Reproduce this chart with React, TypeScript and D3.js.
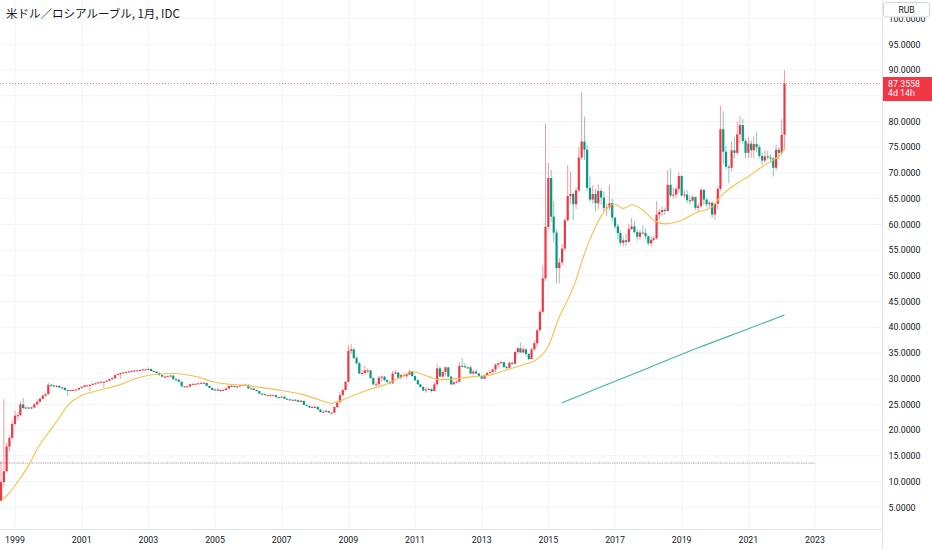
import * as d3 from 'd3';

// Monthly USD/RUB candles, first month = Aug 1998
const startYear = 1998;
const startMonth = 7; // August (0-based)

const opens = [
  6.24, 9.9, 12.0, 16.8, 18.5,
  21.2, 22.8, 22.9, 25.0, 24.3, 24.4, 24.2, 24.4, 25.0, 25.5, 26.1, 26.7,
  27.0, 28.8, 28.7, 28.5, 28.6, 28.3, 28.2, 27.8, 27.7, 27.8, 27.8, 27.9,
  28.2, 28.4, 28.7, 28.7, 28.8, 29.0, 29.1, 29.3, 29.4, 29.4, 29.6, 29.9,
  30.1, 30.7, 30.9, 31.1, 31.2, 31.3, 31.4, 31.5, 31.6, 31.6, 31.7, 31.8,
  31.8, 31.9, 31.5, 31.4, 31.1, 30.7, 30.4, 30.4, 30.5, 30.6, 29.9, 29.8,
  29.4, 28.5, 28.5, 28.5, 28.9, 29.0, 29.0, 29.1, 29.2, 29.2, 28.6, 28.2,
  27.8, 27.9, 27.7, 27.8, 27.8, 28.1, 28.6, 28.6, 28.5, 28.5, 28.7, 28.8,
  28.8, 28.1, 28.1, 27.8, 27.6, 27.1, 27.0, 26.8, 26.8, 26.8, 26.8, 26.4,
  26.3, 26.5, 26.1, 26.0, 25.8, 25.9, 25.8, 25.5, 25.7, 24.9, 24.7, 24.4,
  24.5, 24.5, 24.0, 23.5, 23.6, 23.7, 23.4, 23.4, 24.5, 25.4, 26.8, 27.8,
  29.4, 35.4, 35.7, 34.0, 33.0, 31.0, 31.1, 31.6, 31.6, 30.1, 28.9, 28.9,
  30.2, 30.4, 29.7, 29.4, 29.1, 31.0, 31.2, 30.2, 30.7, 30.5, 30.8, 31.4,
  30.5, 29.7, 28.9, 28.4, 27.7, 27.9, 28.0, 27.6, 28.9, 32.0, 30.4, 31.3,
  32.2, 30.4, 28.9, 29.3, 29.4, 32.5, 32.4, 32.2, 32.2, 31.0, 31.4, 31.0,
  30.5, 30.0, 30.6, 31.1, 31.3, 31.8, 32.7, 33.0, 33.2, 32.3, 32.1, 33.1,
  32.9, 35.2, 35.9, 35.1, 35.7, 34.8, 33.8, 35.7, 36.9, 39.4, 43.0, 49.5,
  59.5, 69.0, 61.5, 58.4, 51.5, 52.6, 55.3, 60.8, 65.5, 65.9, 63.9, 66.6,
  73.0, 76.1, 74.5, 67.1, 64.8, 65.9, 64.1, 66.5, 65.2, 63.2, 63.3, 64.1,
  61.3, 59.6, 58.3, 56.4, 56.9, 56.6, 59.1, 59.6, 58.5, 57.6, 58.4, 58.3,
  57.7, 56.3, 57.0, 57.3, 61.9, 62.4, 62.8, 62.6, 67.7, 65.6, 65.8, 66.9,
  69.4, 65.6, 65.8, 64.7, 64.6, 65.3, 63.2, 63.5, 66.7, 64.8, 63.9, 64.2,
  61.9, 64.0, 66.9, 78.5, 74.1, 71.2, 71.0, 74.4, 73.9, 77.5, 79.3, 76.2,
  73.9, 75.7, 74.4, 75.6, 75.0, 73.3, 72.4, 73.2, 73.0, 72.8, 71.0, 74.5,
  73.9, 77.4,
];

const highs = [
  14.0, 26.0, 17.5, 19.0, 21.9,
  23.8, 23.5, 25.6, 26.3, 24.6, 24.5, 24.6, 25.3, 26.0, 26.3, 26.9, 27.2,
  29.2, 29.0, 28.8, 28.8, 28.7, 28.4, 28.3, 27.9, 27.9, 27.9, 27.9, 28.3,
  28.5, 28.8, 28.8, 28.9, 29.1, 29.2, 29.4, 29.5, 29.5, 29.7, 30.0, 30.3,
  30.8, 31.0, 31.2, 31.3, 31.4, 31.5, 31.6, 31.7, 31.7, 31.8, 31.9, 31.9,
  32.2, 31.9, 31.6, 31.4, 31.2, 30.8, 30.6, 30.6, 30.7, 30.7, 30.0, 29.9,
  29.5, 28.6, 28.6, 29.0, 29.1, 29.1, 29.2, 29.3, 29.3, 29.2, 28.7, 28.3,
  28.1, 28.2, 27.9, 28.0, 28.1, 28.7, 28.8, 28.7, 28.6, 28.8, 28.9, 29.0,
  28.9, 28.3, 28.2, 27.9, 27.6, 27.2, 27.1, 26.9, 26.9, 26.9, 26.9, 26.5,
  26.6, 26.6, 26.2, 26.0, 26.0, 26.0, 25.9, 25.9, 25.7, 25.0, 24.8, 24.7,
  24.9, 24.7, 24.1, 23.8, 24.0, 23.8, 23.5, 24.6, 25.8, 27.4, 28.0, 29.5,
  36.5, 36.7, 36.0, 34.4, 33.3, 31.7, 32.5, 32.0, 31.7, 30.3, 29.4, 30.5,
  30.6, 30.5, 29.9, 29.5, 31.5, 31.7, 31.3, 30.9, 31.2, 31.1, 31.8, 31.5,
  30.6, 29.9, 29.0, 28.5, 28.3, 28.3, 28.1, 29.4, 32.9, 32.4, 31.6, 32.4,
  32.2, 30.5, 29.6, 29.8, 33.2, 34.0, 33.0, 32.5, 32.5, 31.8, 31.8, 31.1,
  30.6, 30.8, 31.3, 31.8, 31.9, 33.0, 33.1, 33.4, 33.3, 32.5, 33.3, 33.3,
  35.3, 36.1, 37.0, 36.3, 35.9, 35.0, 36.0, 37.4, 39.7, 43.5, 52.0, 79.6,
  71.9, 70.6, 64.5, 59.0, 53.5, 56.2, 61.3, 71.5, 70.2, 66.2, 67.2, 75.1,
  85.8, 80.9, 75.4, 69.3, 67.6, 66.9, 67.8, 67.0, 66.4, 64.0, 67.7, 65.0,
  61.4, 60.1, 58.8, 57.6, 58.3, 60.1, 61.2, 60.7, 58.9, 58.9, 59.8, 59.2,
  57.8, 57.6, 57.8, 64.5, 63.0, 63.5, 63.3, 70.6, 70.9, 67.1, 67.3, 70.1,
  69.6, 66.6, 66.7, 65.6, 65.7, 65.4, 64.0, 67.2, 66.9, 65.1, 64.6, 64.5,
  64.1, 67.4, 83.1, 81.9, 75.3, 71.6, 76.1, 77.0, 80.0, 81.0, 80.5, 76.7,
  77.0, 76.3, 77.1, 77.9, 75.5, 74.0, 74.5, 74.3, 73.6, 73.0, 75.5, 75.0,
  80.4, 90.0,
];

const lows = [
  6.2, 9.0, 11.8, 15.8, 18.2,
  20.9, 22.0, 22.6, 24.0, 24.1, 24.1, 24.1, 24.3, 24.9, 25.4, 26.0, 26.4,
  26.9, 28.4, 28.3, 28.3, 28.2, 28.0, 27.7, 26.6, 27.6, 27.7, 27.7, 27.8,
  28.1, 28.3, 28.6, 27.6, 28.7, 28.9, 29.0, 29.2, 28.2, 29.3, 29.5, 29.8,
  30.0, 30.6, 30.0, 31.0, 31.1, 31.2, 31.3, 31.4, 31.5, 31.5, 31.6, 31.7,
  31.7, 31.4, 31.3, 31.0, 30.6, 30.3, 30.3, 30.3, 30.4, 29.8, 29.6, 29.3,
  28.5, 28.4, 28.4, 28.4, 28.8, 28.9, 28.9, 29.1, 29.1, 28.6, 28.1, 27.7,
  27.7, 27.6, 27.4, 27.7, 27.7, 28.0, 28.5, 28.3, 28.3, 28.4, 28.6, 28.7,
  28.1, 28.0, 27.7, 27.5, 26.9, 26.9, 26.8, 26.7, 26.6, 26.7, 26.4, 26.2,
  26.3, 26.1, 26.0, 25.7, 25.7, 25.7, 25.4, 25.4, 24.9, 24.7, 24.3, 24.3,
  24.4, 24.0, 23.5, 23.4, 23.5, 23.4, 23.1, 23.3, 24.3, 25.3, 26.7, 27.6,
  29.3, 34.8, 33.8, 32.7, 30.9, 30.6, 30.9, 31.0, 30.0, 28.7, 28.6, 28.8,
  29.4, 29.6, 29.1, 28.9, 29.0, 30.8, 30.1, 29.9, 30.4, 30.1, 30.7, 30.4,
  29.6, 28.9, 28.3, 27.6, 27.3, 27.8, 27.3, 27.5, 28.8, 30.3, 30.3, 30.6,
  30.3, 28.8, 28.9, 29.2, 29.3, 32.2, 32.0, 31.9, 30.8, 30.6, 30.9, 30.4,
  29.9, 29.9, 30.5, 31.0, 30.8, 31.3, 32.2, 32.8, 32.0, 31.8, 32.0, 32.6,
  32.8, 34.8, 35.0, 34.9, 34.3, 33.6, 33.8, 35.5, 36.1, 39.3, 42.7, 49.0,
  59.0, 60.5, 56.6, 48.5, 48.6, 52.0, 54.8, 60.5, 64.0, 60.8, 63.0, 66.2,
  72.5, 72.5, 66.5, 64.3, 64.0, 62.5, 63.0, 63.8, 62.5, 61.6, 62.7, 60.6,
  59.2, 57.1, 55.9, 55.7, 55.8, 56.5, 58.9, 58.3, 56.8, 57.0, 58.2, 57.2,
  55.9, 55.7, 56.6, 57.0, 60.9, 61.6, 61.8, 62.5, 65.2, 65.0, 65.1, 66.1,
  65.4, 65.1, 64.1, 63.8, 64.3, 62.8, 62.5, 63.4, 63.8, 63.4, 63.2, 61.2,
  60.9, 62.9, 66.5, 71.8, 70.7, 68.0, 70.2, 72.9, 73.5, 75.8, 75.7, 72.9,
  72.9, 72.9, 72.8, 74.0, 72.8, 71.5, 72.0, 72.6, 72.0, 69.3, 70.5, 72.6,
  73.6, 74.4,
];

const closes = [
  9.9, 12.0, 16.8, 18.5, 21.2,
  22.8, 22.9, 25.0, 24.3, 24.4, 24.2, 24.4, 25.0, 25.5, 26.1, 26.7, 27.0,
  28.8, 28.7, 28.5, 28.6, 28.3, 28.2, 27.8, 27.7, 27.8, 27.8, 27.9, 28.2,
  28.4, 28.7, 28.7, 28.8, 29.0, 29.1, 29.3, 29.4, 29.4, 29.6, 29.9, 30.1,
  30.7, 30.9, 31.1, 31.2, 31.3, 31.4, 31.5, 31.6, 31.6, 31.7, 31.8, 31.8,
  31.9, 31.5, 31.4, 31.1, 30.7, 30.4, 30.4, 30.5, 30.6, 29.9, 29.8, 29.4,
  28.5, 28.5, 28.5, 28.9, 29.0, 29.0, 29.1, 29.2, 29.2, 28.6, 28.2, 27.8,
  27.9, 27.7, 27.8, 27.8, 28.1, 28.6, 28.6, 28.5, 28.5, 28.7, 28.8, 28.8,
  28.1, 28.1, 27.8, 27.6, 27.1, 27.0, 26.8, 26.8, 26.8, 26.8, 26.4, 26.3,
  26.5, 26.1, 26.0, 25.8, 25.9, 25.8, 25.5, 25.7, 24.9, 24.7, 24.4, 24.5,
  24.5, 24.0, 23.5, 23.6, 23.7, 23.4, 23.4, 24.5, 25.4, 26.8, 27.8, 29.4,
  35.4, 35.7, 34.0, 33.0, 31.0, 31.1, 31.6, 31.6, 30.1, 28.9, 28.9, 30.2,
  30.4, 29.7, 29.4, 29.1, 31.0, 31.2, 30.2, 30.7, 30.5, 30.8, 31.4, 30.5,
  29.7, 28.9, 28.4, 27.7, 27.9, 28.0, 27.6, 28.9, 32.0, 30.4, 31.3, 32.2,
  30.4, 28.9, 29.3, 29.4, 32.5, 32.4, 32.2, 32.2, 31.0, 31.4, 31.0, 30.5,
  30.0, 30.6, 31.1, 31.3, 31.8, 32.7, 33.0, 33.2, 32.3, 32.1, 33.1, 32.9,
  35.2, 35.9, 35.1, 35.7, 34.8, 33.8, 35.7, 36.9, 39.4, 43.0, 49.5, 59.5,
  69.0, 61.5, 58.4, 51.5, 52.6, 55.3, 60.8, 65.5, 65.9, 63.9, 66.6, 73.0,
  76.1, 74.5, 67.1, 64.8, 65.9, 64.1, 66.5, 65.2, 63.2, 63.3, 64.1, 61.3,
  59.6, 58.3, 56.4, 56.9, 56.6, 59.1, 59.6, 58.5, 57.6, 58.4, 58.3, 57.7,
  56.3, 57.0, 57.3, 61.9, 62.4, 62.8, 62.6, 67.7, 65.6, 65.8, 66.9, 69.4,
  65.6, 65.8, 64.7, 64.6, 65.3, 63.2, 63.5, 66.7, 64.8, 63.9, 64.2, 61.9,
  64.0, 66.9, 78.5, 74.1, 71.2, 71.0, 74.4, 73.9, 77.5, 79.3, 76.2, 73.9,
  75.7, 74.4, 75.6, 75.0, 73.3, 72.4, 73.2, 73.0, 72.8, 71.0, 74.5, 73.9,
  77.4, 87.3558,
];

// yellow moving average
const maDates = [
  '1998-08', '1998-11', '1999-02', '1999-06', '1999-09', '2000-01', '2000-05', '2000-08',
  '2000-12', '2001-07', '2002-02', '2002-09', '2003-03', '2003-10', '2004-07', '2005-01',
  '2006-01', '2007-01', '2007-08', '2008-02', '2008-07', '2009-02', '2009-08', '2010-02',
  '2010-08', '2010-12', '2011-06', '2011-10', '2012-05', '2012-10', '2013-04', '2013-10',
  '2014-04', '2014-09', '2015-01', '2015-05', '2015-08', '2015-11', '2016-01', '2016-06',
  '2016-10', '2017-01', '2017-04', '2017-07', '2017-11', '2018-03', '2018-07', '2018-12',
  '2019-06', '2019-12', '2020-03', '2020-09', '2021-01', '2021-06', '2021-09', '2022-01',
  '2022-02',
];
const maValues = [
  6.2, 7.8, 10.0, 13.2, 16.3, 19.5, 22.4, 24.8,
  26.5, 27.7, 28.7, 30.1, 30.8, 31.0, 30.3, 29.3,
  28.6, 27.7, 27.0, 26.0, 25.2, 26.6, 27.8, 28.8,
  30.3, 31.4, 30.4, 29.8, 30.1, 30.4, 30.7, 31.7,
  32.7, 33.8, 36.3, 42.0, 45.3, 49.2, 52.7, 59.5,
  63.1, 63.9, 63.1, 63.8, 62.8, 60.8, 60.1, 60.6,
  62.2, 63.4, 65.4, 68.0, 69.3, 71.2, 72.2, 73.8,
  74.8,
];

// teal long average
const longMaDates = ['2015-06', '2016-07', '2018-01', '2019-07', '2021-01', '2022-02'];
const longMaValues = [25.3, 28.2, 32.1, 36.0, 39.7, 42.4];

const baseLevel = 13.6;
const baseLevelEnd = '2023-01';
const lastPrice = 87.3558;
const countdown = '4d 14h';
// 85 sits under the last-price label and is not shown
const priceTicks = [5, 10, 15, 20, 25, 30, 35, 40, 45, 50, 55, 60, 65, 70, 75, 80, 85, 90, 95, 100];
const hiddenPriceLabels = [85];
const yearTicks = [1999, 2001, 2003, 2005, 2007, 2009, 2011, 2013, 2015, 2017, 2019, 2021, 2023];
const title = '米ドル／ロシアルーブル, 1月, IDC';

const W = 932;
const H = 550;
const plotW = 882;
const plotH = 529;
const UP = '#f23645';
const DOWN = '#089981';
const TEXT = '#131722';
const FONT = 'Roboto, "Noto Sans", sans-serif';

const parseMonth = d3.timeParse('%Y-%m');

export default function App() {
  const x = d3
    .scaleTime()
    .domain([new Date(1999, 0, 1), new Date(2023, 0, 1)])
    .range([15, 815]);
  const y = d3.scaleLinear().domain([5, 95]).range([507.3, 44.3]);

  const candles = closes.map((c, i) => ({
    date: new Date(startYear, startMonth + i, 1),
    o: opens[i],
    h: highs[i],
    l: lows[i],
    c,
  }));

  const maLine = d3
    .line<[string, number]>()
    .x((d) => x(parseMonth(d[0]) as Date))
    .y((d) => y(d[1]))
    .curve(d3.curveMonotoneX);

  const maPath = maLine(maDates.map((d, i) => [d, maValues[i]]));
  const longMaPath = maLine(longMaDates.map((d, i) => [d, longMaValues[i]]));

  const baseEndX = x(parseMonth(baseLevelEnd) as Date);

  return (
    <svg
      width={W}
      height={H}
      style={{ position: 'absolute', left: 0, top: 0, background: '#ffffff' }}
    >
      <defs>
        <clipPath id="plot">
          <rect x={0} y={0} width={plotW} height={plotH} />
        </clipPath>
      </defs>

      {/* grid */}
      <g>
        {priceTicks.map((t) => (
          <line key={t} x1={0} x2={plotW} y1={y(t)} y2={y(t)} stroke="#f0f3fa" />
        ))}
        {yearTicks.map((yr) => {
          const xx = x(new Date(yr, 0, 1));
          return <line key={yr} x1={xx} x2={xx} y1={0} y2={plotH} stroke="#f0f3fa" />;
        })}
      </g>

      <g clipPath="url(#plot)">
        {/* dotted base level, two colours */}
        <line x1={0} x2={baseEndX} y1={y(baseLevel)} y2={y(baseLevel)}
          stroke={DOWN} strokeOpacity={0.6} strokeDasharray="1.5 3" />
        <line x1={0} x2={baseEndX} y1={y(baseLevel)} y2={y(baseLevel)}
          stroke={UP} strokeOpacity={0.5} strokeDasharray="1.5 3" strokeDashoffset={2.25} />

        {/* current price line */}
        <line x1={0} x2={plotW} y1={y(lastPrice)} y2={y(lastPrice)}
          stroke={UP} strokeOpacity={0.75} strokeDasharray="1 2" />

        {/* candles */}
        {candles.map((d, i) => {
          const cx = x(d.date);
          const col = d.c >= d.o ? UP : DOWN;
          const top = y(Math.max(d.o, d.c));
          const bh = Math.max(1, Math.abs(y(d.o) - y(d.c)));
          return (
            <g key={i}>
              <line x1={cx} x2={cx} y1={y(d.h)} y2={y(d.l)} stroke={col} strokeOpacity={0.5} strokeWidth={1} />
              <rect x={cx - 1.1} y={top} width={2.2} height={bh} fill={col} />
            </g>
          );
        })}

        {/* moving averages */}
        <path d={maPath ?? ''} fill="none" stroke="#f8c14c" strokeWidth={1.1} />
        <path d={longMaPath ?? ''} fill="none" stroke="#3cb89c" strokeWidth={1.1} />
      </g>

      {/* title */}
      <text x={6} y={18} fontFamily='"Noto Sans CJK JP", sans-serif' fontSize={11.5} fill={TEXT}>
        {title}
      </text>

      {/* axes borders */}
      <line x1={plotW + 0.5} x2={plotW + 0.5} y1={0} y2={H} stroke="#e0e3eb" />
      <line x1={0} x2={plotW} y1={plotH + 0.5} y2={plotH + 0.5} stroke="#e0e3eb" />

      {/* price axis */}
      {priceTicks
        .filter((t) => !hiddenPriceLabels.includes(t))
        .map((t) => (
          <text key={t} x={888.5} y={y(t) + 3.2} fontFamily={FONT} fontSize={8.8} fill={TEXT}>
            {t.toFixed(4)}
          </text>
        ))}

      {/* time axis */}
      {yearTicks.map((yr) => (
        <text key={yr} x={x(new Date(yr, 0, 1))} y={542.5} textAnchor="middle"
          fontFamily={FONT} fontSize={8.8} fill={TEXT}>
          {yr}
        </text>
      ))}

      {/* last price label */}
      <rect x={plotW + 1} y={77} width={W - plotW - 1} height={24} fill={UP} />
      <text x={888} y={86.5} fontFamily={FONT} fontSize={8.8} fill="#ffffff">
        {lastPrice.toFixed(4)}
      </text>
      <text x={888} y={96} fontFamily={FONT} fontSize={8.8} fill="#ffffff">
        {countdown}
      </text>

      {/* currency button */}
      <rect x={883.5} y={2.5} width={46} height={14.5} rx={3} fill="#ffffff" stroke="#d1d4dc" />
      <text x={906.5} y={12.8} textAnchor="middle" fontFamily={FONT} fontSize={8.5} fill={TEXT}>
        RUB
      </text>
    </svg>
  );
}
